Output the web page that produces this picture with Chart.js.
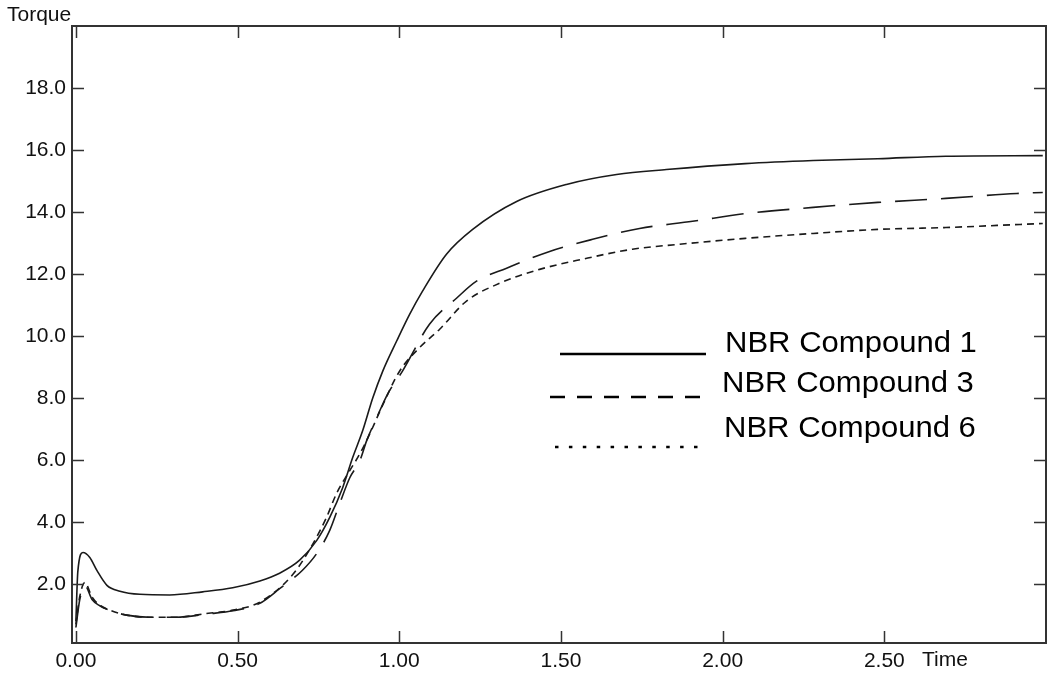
<!DOCTYPE html>
<html>
<head>
<meta charset="utf-8">
<script src="https://cdn.jsdelivr.net/npm/chart.js@4.4.1/dist/chart.umd.min.js"></script>
<style>
  html, body { margin: 0; padding: 0; background: #fff; }
  canvas { display: block; }
</style>
</head>
<body>
<canvas id="cure" width="1049" height="675"></canvas>
<script>
// rheometer cure curves
const seriesLabels = ['NBR Compound 1', 'NBR Compound 3', 'NBR Compound 6']

const c1Time = [0, 0.006, 0.022, 0.043, 0.065, 0.096, 0.136, 0.198, 0.29, 0.392, 0.485, 0.569, 0.63, 0.692, 0.745, 0.785, 0.825, 0.856, 0.887, 0.918, 0.949, 0.992, 1.032, 1.072, 1.146, 1.227, 1.363, 1.517, 1.672, 1.826, 2.07, 2.28, 2.48, 2.69, 2.99]
const c1Torque = [0.8, 2.4, 3.02, 2.86, 2.44, 1.96, 1.77, 1.67, 1.65, 1.75, 1.88, 2.1, 2.35, 2.77, 3.41, 4.15, 5.11, 6.08, 6.95, 8.0, 8.87, 9.84, 10.7, 11.45, 12.64, 13.44, 14.34, 14.89, 15.21, 15.37, 15.56, 15.66, 15.72, 15.8, 15.82]

const c3Time = [0, 0.012, 0.028, 0.05, 0.074, 0.105, 0.157, 0.23, 0.31, 0.41, 0.486, 0.569, 0.63, 0.7, 0.745, 0.785, 0.816, 0.847, 0.878, 0.899, 0.93, 0.964, 1.01, 1.094, 1.177, 1.239, 1.332, 1.465, 1.598, 1.743, 1.907, 2.07, 2.28, 2.48, 2.69, 2.91, 2.99]
const c3Torque = [0.6, 1.5, 1.95, 1.5, 1.3, 1.15, 1.0, 0.93, 0.93, 1.04, 1.14, 1.38, 1.85, 2.44, 2.99, 3.73, 4.6, 5.43, 5.98, 6.62, 7.36, 8.13, 8.87, 10.39, 11.22, 11.77, 12.19, 12.73, 13.12, 13.47, 13.7, 13.95, 14.15, 14.31, 14.44, 14.6, 14.63]

const c6Time = [0, 0.012, 0.028, 0.05, 0.074, 0.105, 0.157, 0.23, 0.31, 0.41, 0.486, 0.569, 0.67, 0.733, 0.775, 0.806, 0.847, 0.878, 0.909, 0.95, 1.0, 1.06, 1.125, 1.208, 1.31, 1.434, 1.567, 1.721, 1.866, 2.07, 2.28, 2.48, 2.69, 2.92, 2.99]
const c6Torque = [0.7, 1.6, 2.05, 1.58, 1.32, 1.16, 1.0, 0.93, 0.93, 1.06, 1.16, 1.42, 2.3, 3.3, 4.15, 4.92, 5.66, 6.2, 6.85, 7.8, 8.85, 9.6, 10.22, 11.13, 11.7, 12.15, 12.48, 12.8, 12.96, 13.15, 13.31, 13.44, 13.5, 13.6, 13.63]

const timeTicks = [0, 0.5, 1.0, 1.5, 2.0, 2.5]
const torqueTicks = [2, 4, 6, 8, 10, 12, 14, 16, 18]

const FONT = '"Liberation Sans", Arial, sans-serif'
const INK = '#111'

const toPoints = (xs, ys) => xs.map((t, i) => ({ x: t, y: ys[i] }))

// frame with inward ticks, axis titles and the hand-placed legend
const framePlugin = {
  id: 'frame',
  afterDatasetsDraw(chart) {
    const { ctx, chartArea: a, scales: { x, y } } = chart
    ctx.save()
    ctx.strokeStyle = '#333'
    ctx.lineWidth = 2
    ctx.strokeRect(a.left, a.top, a.right - a.left, a.bottom - a.top)

    ctx.lineWidth = 1.5
    ctx.beginPath()
    timeTicks.forEach(v => {
      const px = Math.round(x.getPixelForValue(v)) + 0.5
      ctx.moveTo(px, a.bottom); ctx.lineTo(px, a.bottom - 12)
      ctx.moveTo(px, a.top); ctx.lineTo(px, a.top + 12)
    })
    torqueTicks.forEach(v => {
      const py = Math.round(y.getPixelForValue(v)) + 0.5
      ctx.moveTo(a.left, py); ctx.lineTo(a.left + 12, py)
      ctx.moveTo(a.right, py); ctx.lineTo(a.right - 12, py)
    })
    ctx.stroke()

    ctx.fillStyle = INK
    ctx.font = '21px ' + FONT
    ctx.fillText('Torque', 7, 21)
    ctx.fillText('Time', 922, 666)

    // legend samples
    ctx.strokeStyle = '#000'
    ctx.lineWidth = 2.5
    const samples = [
      { x0: 560, x1: 706, y: 354, dash: [] },
      { x0: 550, x1: 703, y: 397, dash: [15, 12] },
      { x0: 555, x1: 699, y: 447, dash: [3.5, 10.4] }
    ]
    samples.forEach(s => {
      ctx.setLineDash(s.dash)
      ctx.beginPath()
      ctx.moveTo(s.x0, s.y); ctx.lineTo(s.x1, s.y)
      ctx.stroke()
    })
    ctx.setLineDash([])

    ctx.fillStyle = '#000'
    ctx.font = '29px ' + FONT
    const textPos = [[725, 352], [722, 392], [724, 437]]
    seriesLabels.forEach((label, i) => {
      ctx.save()
      ctx.translate(textPos[i][0], textPos[i][1])
      ctx.scale(1.07, 1)
      ctx.fillText(label, 0, 0)
      ctx.restore()
    })
    ctx.restore()
  }
}

const lineStyle = {
  borderColor: '#1a1a1a',
  borderWidth: 1.6,
  pointRadius: 0,
  fill: false,
  cubicInterpolationMode: 'monotone'
}

new Chart(document.getElementById('cure').getContext('2d'), {
  type: 'line',
  data: {
    datasets: [
      { ...lineStyle, label: seriesLabels[0], data: toPoints(c1Time, c1Torque) },
      { ...lineStyle, label: seriesLabels[1], data: toPoints(c3Time, c3Torque), borderDash: [32, 14] },
      { ...lineStyle, label: seriesLabels[2], data: toPoints(c6Time, c6Torque), borderDash: [7, 5] }
    ]
  },
  options: {
    responsive: false,
    animation: false,
    events: [],
    layout: { padding: { top: 26, right: 3, left: 0, bottom: 0 } },
    plugins: { legend: { display: false }, tooltip: { enabled: false } },
    scales: {
      x: {
        type: 'linear',
        min: -0.012,
        max: 3.0,
        grid: { display: false, drawTicks: false },
        border: { display: false },
        afterBuildTicks: s => { s.ticks = timeTicks.map(v => ({ value: v })) },
        afterFit: s => { s.height = 32 },
        ticks: {
          autoSkip: false,
          maxRotation: 0,
          padding: 6,
          color: INK,
          font: { family: FONT, size: 21 },
          callback: v => v.toFixed(2)
        }
      },
      y: {
        type: 'linear',
        min: 0.1,
        max: 20,
        grid: { display: false, drawTicks: false },
        border: { display: false },
        afterBuildTicks: s => { s.ticks = torqueTicks.map(v => ({ value: v })) },
        afterFit: s => { s.width = 72 },
        ticks: {
          autoSkip: false,
          padding: 6,
          color: INK,
          font: { family: FONT, size: 21 },
          callback: v => v.toFixed(1)
        }
      }
    }
  },
  plugins: [framePlugin]
})
</script>
</body>
</html>
